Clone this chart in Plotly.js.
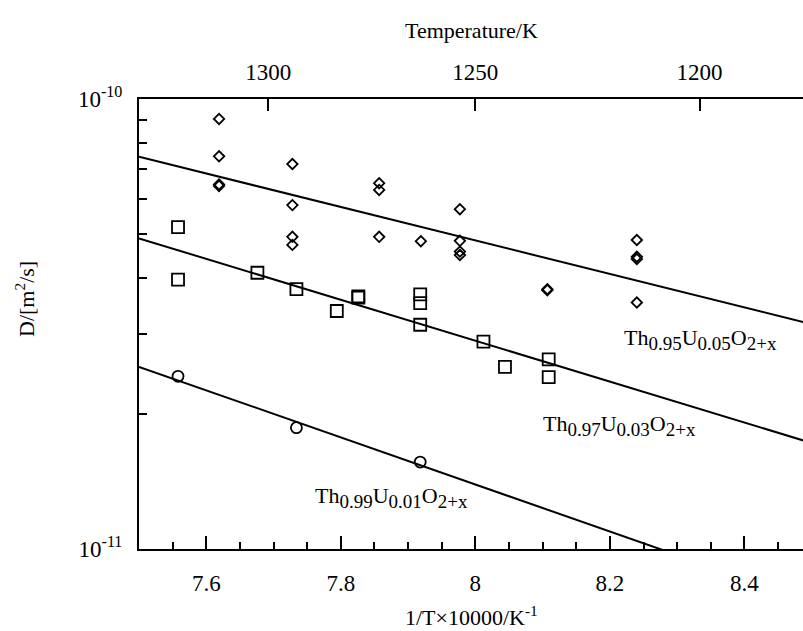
<!DOCTYPE html>
<html><head><meta charset="utf-8">
<script src="https://cdn.plot.ly/plotly-3.0.1.min.js"></script>
<style>html,body{margin:0;padding:0;background:#fff}</style>
</head><body><div id="chart" style="width:803px;height:631px"></div>
<script>
// Th0.95U0.05O2+x (diamonds)
const xDiamond = [7.619,7.619,7.619,7.619, 7.728,7.728,7.728,7.728, 7.857,7.857,7.857, 7.919, 7.977,7.977,7.977,7.977, 8.107,8.107, 8.240,8.240,8.240,8.240];
const dDiamond = [9.03e-11,7.46e-11,6.46e-11,6.41e-11, 7.17e-11,5.81e-11,4.94e-11,4.74e-11, 6.50e-11,6.28e-11,4.94e-11, 4.83e-11, 5.69e-11,4.84e-11,4.58e-11,4.50e-11, 3.78e-11,3.76e-11, 4.86e-11,4.46e-11,4.41e-11,3.53e-11];
// Th0.97U0.03O2+x (squares)
const xSquare = [7.558,7.558, 7.676, 7.734, 7.794, 7.826,7.826, 7.918,7.918,7.918, 8.012, 8.044, 8.109,8.109];
const dSquare = [5.19e-11,3.97e-11, 4.11e-11, 3.78e-11, 3.38e-11, 3.64e-11,3.62e-11, 3.68e-11,3.52e-11,3.15e-11, 2.89e-11, 2.54e-11, 2.64e-11,2.41e-11];
// Th0.99U0.01O2+x (circles)
const xCircle = [7.558, 7.734, 7.918];
const dCircle = [2.42e-11, 1.86e-11, 1.56e-11];
// fitted lines (end points)
const xFit = [7.5, 8.5];
const dFit95 = [7.44e-11, 3.16e-11];
const dFit97 = [4.90e-11, 1.72e-11];
const dFit99 = [2.54e-11, 7.62e-12];
// axes
const xTickVals = [7.6, 7.8, 8.0, 8.2, 8.4];
const xTickText = ['7.6', '7.8', '8', '8.2', '8.4'];
const tempTicks = [1300, 1250, 1200];
const yTickVals = [1e-10, 1e-11];
const yTickText = ['10<sup>-10</sup>', '10<sup>-11</sup>'];
const yMinorVals = [2e-11,3e-11,4e-11,5e-11,6e-11,7e-11,8e-11,9e-11];

const FONT = 'Liberation Serif';
const XR = [7.5, 8.487];

function line(x, y) {
  return {x: x, y: y, mode: 'lines', type: 'scatter', line: {color: '#000', width: 2}, showlegend: false, hoverinfo: 'skip'};
}
function pts(x, y, sym, size) {
  return {x: x, y: y, mode: 'markers', type: 'scatter', showlegend: false,
    marker: {symbol: sym, size: size, color: '#000', line: {color: '#000', width: 1.8}}};
}
const traces = [
  line(xFit, dFit95), line(xFit, dFit97), line(xFit, dFit99),
  pts(xDiamond, dDiamond, 'diamond-open', 8),
  pts(xSquare, dSquare, 'square-open', 12),
  pts(xCircle, dCircle, 'circle-open', 11),
  {x: [XR[0]], y: [null], xaxis: 'x2', type: 'scatter', mode: 'markers', showlegend: false, hoverinfo: 'skip'}
];

function chem(a, b) {
  const s = t => '<sub><span style="font-size:19px">' + t + '</span></sub>';
  return 'Th' + s(a) + 'U' + s(b) + 'O' + s('2+x');
}

const layout = {
  width: 803, height: 631,
  margin: {l: 139, r: 0, t: 99, b: 82},
  paper_bgcolor: '#fff', plot_bgcolor: '#fff',
  font: {family: FONT, size: 22, color: '#000'},
  showlegend: false,
  xaxis: {
    range: XR, showgrid: false, zeroline: false,
    showline: true, linewidth: 2, linecolor: '#000',
    tickmode: 'array', tickvals: xTickVals, ticktext: xTickText,
    ticks: 'inside', ticklen: 13, tickwidth: 2, tickcolor: '#000',
    ticklabelstandoff: 12,
    minor: {tickmode: 'linear', tick0: 7.5, dtick: 0.05, ticks: 'inside', ticklen: 7, tickwidth: 2, tickcolor: '#000', showgrid: false},
    tickfont: {family: FONT, size: 23, color: '#000'}
  },
  xaxis2: {
    overlaying: 'x', side: 'top', range: XR, showgrid: false, zeroline: false,
    showline: true, linewidth: 2, linecolor: '#000',
    tickmode: 'array', tickvals: tempTicks.map(t => 10000 / t), ticktext: tempTicks.map(String),
    ticks: 'inside', ticklen: 12, tickwidth: 2, tickcolor: '#000',
    ticklabelstandoff: 8,
    tickfont: {family: FONT, size: 23, color: '#000'}
  },
  yaxis: {
    type: 'log', range: [-11, -10], showgrid: false, zeroline: false,
    showline: true, linewidth: 2, linecolor: '#000', mirror: false,
    tickmode: 'array', tickvals: yTickVals, ticktext: yTickText,
    ticks: 'inside', ticklen: 10, tickwidth: 2, tickcolor: '#000',
    ticklabelstandoff: 10,
    minor: {tickmode: 'array', tickvals: yMinorVals, ticks: 'inside', ticklen: 8, tickwidth: 2, tickcolor: '#000', showgrid: false},
    tickfont: {family: FONT, size: 23, color: '#000'}
  },
  annotations: [
    {xref: 'paper', yref: 'paper', x: 0.5, y: (549 - 31) / 450, text: 'Temperature/K', showarrow: false, xanchor: 'center', yanchor: 'middle', font: {family: FONT, size: 22}},
    {xref: 'paper', yref: 'paper', x: 0.5, y: (549 - 616) / 450, text: '1/T×10000/K<sup>-1</sup>', showarrow: false, xanchor: 'center', yanchor: 'middle', font: {family: FONT, size: 22}},
    {xref: 'paper', yref: 'paper', x: (25 - 139) / 664, y: (549 - 299) / 450, text: 'D/[m<sup>2</sup>/s]', textangle: -90, showarrow: false, xanchor: 'center', yanchor: 'middle', font: {family: FONT, size: 22}},
    {xref: 'x', yref: 'y', x: 8.218, y: -10.535, text: chem('0.95', '0.05'), showarrow: false, xanchor: 'left', yanchor: 'middle', font: {family: FONT, size: 22}},
    {xref: 'x', yref: 'y', x: 8.098, y: -10.725, text: chem('0.97', '0.03'), showarrow: false, xanchor: 'left', yanchor: 'middle', font: {family: FONT, size: 22}},
    {xref: 'x', yref: 'y', x: 7.758, y: -10.885, text: chem('0.99', '0.01'), showarrow: false, xanchor: 'left', yanchor: 'middle', font: {family: FONT, size: 22}}
  ]
};

Plotly.newPlot('chart', traces, layout, {displayModeBar: false, staticPlot: true});
</script>
</body></html>
